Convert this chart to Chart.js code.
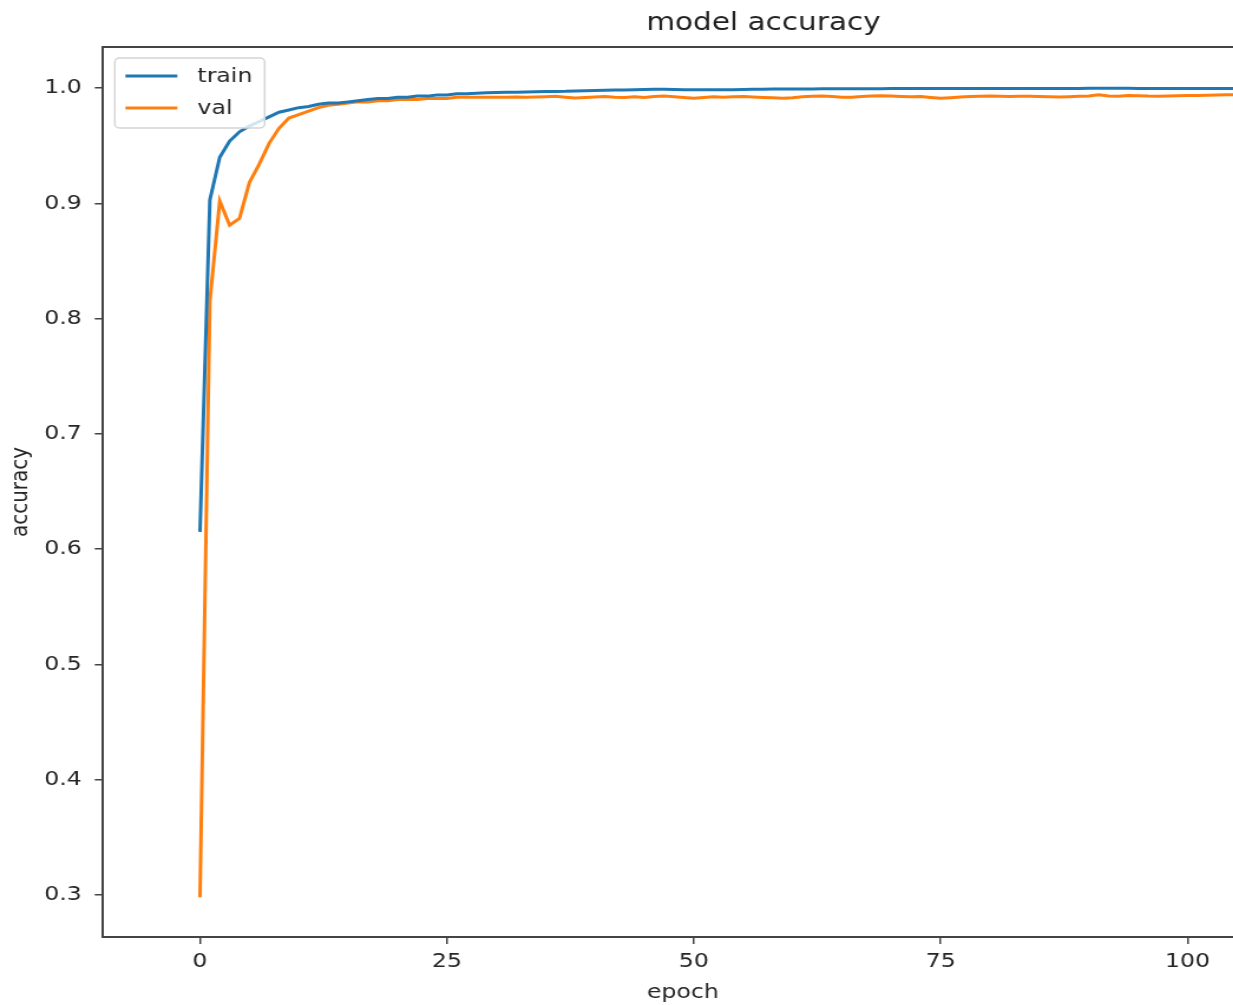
<!DOCTYPE html>
<html>
<head>
<meta charset="utf-8">
<title>model accuracy</title>
<script src="https://cdn.jsdelivr.net/npm/chart.js@4.4.0/dist/chart.umd.min.js"></script>
<style>
    html, body { margin: 0; padding: 0; background: #fff; overflow: hidden; width: 1233px; height: 1005px; }
    /* the source picture is stretched sideways, so the canvas is too */
    #accChart { display: block; transform: scaleX(1.18); transform-origin: 0 0; }
</style>
</head>
<body>
<canvas id="accChart" width="1100" height="1005"></canvas>
<script>
// --- DATA ---
const trainAcc = [
    0.615, 0.903, 0.940, 0.954, 0.962, 0.967, 0.971, 0.975, 0.979, 0.981,
    0.983, 0.984, 0.986, 0.987, 0.987, 0.988, 0.989, 0.990, 0.991, 0.991,
    0.992, 0.992, 0.993, 0.993, 0.994, 0.994, 0.995, 0.995, 0.9955, 0.996,
    0.9962, 0.9963, 0.9964, 0.9965, 0.9967, 0.9969, 0.9971, 0.9972, 0.9975, 0.9977,
    0.9979, 0.9981, 0.9982, 0.9984, 0.9986, 0.9988, 0.9990, 0.9989, 0.9987, 0.9986,
    0.9985, 0.9985, 0.9986, 0.9985, 0.9986, 0.9987, 0.9989, 0.9990, 0.9991, 0.9991,
    0.9992, 0.9992, 0.9992, 0.9993, 0.9993, 0.9993, 0.9994, 0.9994, 0.9994, 0.9994,
    0.9995, 0.9995, 0.9995, 0.9995, 0.9995, 0.9995, 0.9996, 0.9996, 0.9996, 0.9996,
    0.9996, 0.9996, 0.9996, 0.9996, 0.9996, 0.9996, 0.9996, 0.9996, 0.9996, 0.9996,
    0.9998, 0.9998, 0.9998, 0.9998, 0.9998, 0.9997, 0.9997, 0.9997, 0.9997, 0.9997,
    0.9997, 0.9997, 0.9997, 0.9997, 0.9997, 0.9997
];
const valAcc = [
    0.298, 0.815, 0.902, 0.881, 0.887, 0.918, 0.934, 0.952, 0.965, 0.974,
    0.977, 0.980, 0.983, 0.985, 0.986, 0.987, 0.988, 0.988, 0.989, 0.989,
    0.990, 0.990, 0.990, 0.991, 0.991, 0.991, 0.992, 0.992, 0.992, 0.992,
    0.9921, 0.9920, 0.9922, 0.9920, 0.9923, 0.9925, 0.9928, 0.9920, 0.9913, 0.9918,
    0.9922, 0.9926, 0.9921, 0.9918, 0.9924, 0.9917, 0.9927, 0.9931, 0.9925, 0.9918,
    0.9911, 0.9918, 0.9925, 0.9921, 0.9924, 0.9926, 0.9922, 0.9918, 0.9915, 0.9911,
    0.9916, 0.9924, 0.9929, 0.9931, 0.9926, 0.9921, 0.9920, 0.9926, 0.9931, 0.9934,
    0.9930, 0.9927, 0.9925, 0.9926, 0.9918, 0.9911, 0.9916, 0.9922, 0.9926, 0.9929,
    0.9930, 0.9928, 0.9926, 0.9928, 0.9929, 0.9927, 0.9924, 0.9922, 0.9925, 0.9929,
    0.9931, 0.9942, 0.9931, 0.9929, 0.9936, 0.9934, 0.9930, 0.9928, 0.9931, 0.9934,
    0.9936, 0.9935, 0.9937, 0.9940, 0.9942, 0.9941
];
const epochs = trainAcc.map((_, i) => i);
const seriesLabels = ['train', 'val'];
const xTicks = [0, 25, 50, 75, 100];
const yTicks = [0.3, 0.4, 0.5, 0.6, 0.7, 0.8, 0.9, 1.0];

const FONT = "'DejaVu Sans', sans-serif";
const INK = '#262626';
const SPINE = '#444';

// title + boxed legend drawn the matplotlib way
const mplDecor = {
    id: 'mplDecor',
    afterDatasetsDraw(chart) {
        const { ctx, chartArea } = chart;
        ctx.save();

        // legend box, upper left
        const bx = chartArea.left + 10, by = chartArea.top + 11;
        const bw = 127, bh = 70;
        ctx.beginPath();
        ctx.roundRect(bx, by, bw, bh, 4);
        ctx.fillStyle = 'rgba(255,255,255,0.8)';
        ctx.fill();
        ctx.strokeStyle = '#d4d4d4';
        ctx.lineWidth = 1.5;
        ctx.stroke();

        ctx.font = `20px ${FONT}`;
        ctx.textBaseline = 'middle';
        chart.data.datasets.forEach((ds, i) => {
            const rowY = by + 18 + i * 32;
            ctx.beginPath();
            ctx.moveTo(bx + 9, rowY);
            ctx.lineTo(bx + 53, rowY);
            ctx.strokeStyle = ds.borderColor;
            ctx.lineWidth = 3;
            ctx.stroke();
            ctx.fillStyle = INK;
            ctx.fillText(ds.label, bx + 70, rowY + 1);
        });
        ctx.restore();
    },
    afterDraw(chart) {
        const { ctx } = chart;
        ctx.save();
        ctx.font = `25px ${FONT}`;
        ctx.fillStyle = '#222';
        ctx.textAlign = 'center';
        ctx.textBaseline = 'middle';
        ctx.fillText('model accuracy', 647, 23);
        ctx.restore();
    }
};

const ctx = document.getElementById('accChart').getContext('2d');
new Chart(ctx, {
    type: 'line',
    data: {
        datasets: [
            {
                label: seriesLabels[0],
                data: epochs.map(i => ({ x: i, y: trainAcc[i] })),
                borderColor: '#1f77b4',
                borderWidth: 3,
                pointRadius: 0,
                tension: 0,
                fill: false
            },
            {
                label: seriesLabels[1],
                data: epochs.map(i => ({ x: i, y: valAcc[i] })),
                borderColor: '#ff7f0e',
                borderWidth: 3,
                pointRadius: 0,
                tension: 0,
                fill: false
            }
        ]
    },
    options: {
        responsive: false,
        animation: false,
        devicePixelRatio: 1,
        layout: { padding: { top: 47, right: 30, bottom: 0, left: 0 } },
        plugins: {
            legend: { display: false },
            tooltip: { enabled: false },
            title: { display: false }
        },
        scales: {
            x: {
                type: 'linear',
                position: 'bottom',
                min: -9.82,
                max: 107.6,
                afterBuildTicks: (scale) => { scale.ticks = xTicks.map(v => ({ value: v })); },
                afterFit: (scale) => { scale.height = 68; },
                grid: { display: true, drawOnChartArea: false, drawTicks: true, tickLength: 7, color: SPINE, lineWidth: 1.5 },
                border: { display: true, color: SPINE, width: 2 },
                ticks: { color: INK, font: { family: FONT, size: 20 }, padding: 6, maxRotation: 0 },
                title: { display: true, text: 'epoch', color: INK, font: { family: FONT, size: 20 }, padding: { top: 0, bottom: 0 } }
            },
            xTop: {
                type: 'linear',
                position: 'top',
                min: -9.82,
                max: 107.6,
                afterFit: (scale) => { scale.height = 0; },
                grid: { display: false, drawTicks: false },
                border: { display: true, color: SPINE, width: 2 },
                ticks: { display: false }
            },
            y: {
                type: 'linear',
                min: 0.2636,
                max: 1.0356,
                afterBuildTicks: (scale) => { scale.ticks = yTicks.map(v => ({ value: v })); },
                afterFit: (scale) => { scale.width = 87.3; },
                grid: { display: true, drawOnChartArea: false, drawTicks: true, tickLength: 7, color: SPINE, lineWidth: 1.5 },
                border: { display: true, color: SPINE, width: 2 },
                ticks: { color: INK, font: { family: FONT, size: 20 }, padding: 11, callback: (v) => v.toFixed(1) },
                title: { display: true, text: 'accuracy', color: INK, font: { family: FONT, size: 20 }, padding: { top: 6, bottom: 0 } }
            }
        }
    },
    plugins: [mplDecor]
});
</script>
</body>
</html>
